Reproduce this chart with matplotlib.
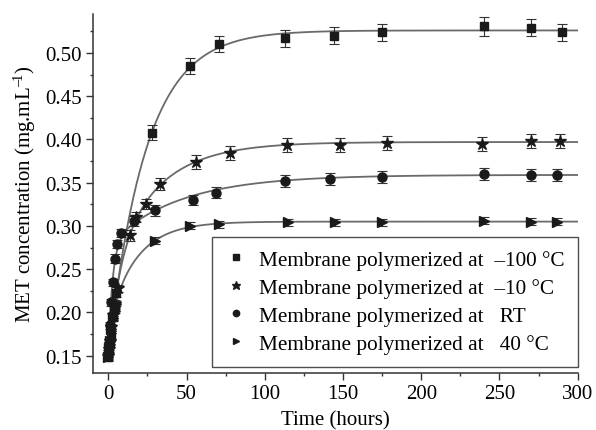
import numpy as np
import matplotlib
matplotlib.use("Agg")
import matplotlib.pyplot as plt
from matplotlib.ticker import MultipleLocator

plt.rcParams["font.family"] = ["Liberation Serif", "DejaVu Serif"]
plt.rcParams["mathtext.fontset"] = "custom"
plt.rcParams["mathtext.rm"] = "Liberation Serif"
plt.rcParams["mathtext.it"] = "Liberation Serif:italic"

t_sq = [0, 0.5, 1, 1.5, 2, 3, 4, 5, 28, 52, 71, 113, 144, 175, 240, 270, 290]
v_sq = [0.148, 0.157, 0.166, 0.172, 0.180, 0.195, 0.208, 0.222,
        0.408, 0.485, 0.510, 0.517, 0.520, 0.524, 0.531, 0.529, 0.524]
e_sq = [0.004, 0.004, 0.004, 0.004, 0.004, 0.004, 0.004, 0.004,
        0.009, 0.009, 0.009, 0.010, 0.010, 0.010, 0.011, 0.010, 0.010]

t_st = [0, 0.5, 1, 2, 3, 4, 6, 13.7, 17.9, 24, 33, 56, 78, 114, 148, 178, 239, 270, 289]
v_st = [0.150, 0.158, 0.167, 0.183, 0.197, 0.210, 0.228, 0.289, 0.310, 0.325,
        0.348, 0.374, 0.384, 0.394, 0.394, 0.396, 0.395, 0.398, 0.398]
e_st = [0.004, 0.004, 0.004, 0.004, 0.004, 0.004, 0.004, 0.006, 0.006, 0.006,
        0.007, 0.008, 0.008, 0.008, 0.008, 0.008, 0.008, 0.008, 0.008]

t_ci = [0, 0.5, 1, 2, 3, 4.5, 5.6, 8.3, 16.2, 30, 54, 69, 113, 142, 175, 240, 270, 287]
v_ci = [0.152, 0.165, 0.185, 0.212, 0.235, 0.262, 0.279, 0.292, 0.306, 0.318,
        0.330, 0.3385, 0.352, 0.354, 0.3565, 0.360, 0.3585, 0.3585]
e_ci = [0.004, 0.004, 0.004, 0.004, 0.004, 0.005, 0.005, 0.005, 0.006, 0.006,
        0.006, 0.006, 0.007, 0.007, 0.007, 0.007, 0.007, 0.007]

t_tr = [0, 0.5, 1, 2, 3, 4, 5, 30, 52, 71, 115, 145, 175, 240, 270, 287]
v_tr = [0.148, 0.159, 0.167, 0.181, 0.193, 0.202, 0.210,
        0.283, 0.300, 0.302, 0.304, 0.304, 0.304, 0.306, 0.305, 0.305]
e_tr = [0.003, 0.003, 0.003, 0.003, 0.003, 0.003, 0.003,
        0.004, 0.004, 0.004, 0.004, 0.004, 0.004, 0.004, 0.004, 0.004]

labels = ["Membrane polymerized at  \u2013100 \u00b0C",
          "Membrane polymerized at  \u201310 \u00b0C",
          "Membrane polymerized at   RT",
          "Membrane polymerized at   40 \u00b0C"]

# fitted curve parameters: plateau - a1*exp(-t/tau1) - a2*exp(-t/tau2)
plateau = [0.526, 0.397, 0.359, 0.305]
amp_fast = [0.376, 0.100, 0.129, 0.040]
tau_fast = [24.0, 7.2, 2.7, 3.0]
amp_slow = [0.0, 0.147, 0.080, 0.115]
tau_slow = [1.0, 30.0, 45.0, 18.0]

series = [(t_sq, v_sq, e_sq, "s", 6),
          (t_st, v_st, e_st, "*", 9),
          (t_ci, v_ci, e_ci, "o", 6.5),
          (t_tr, v_tr, e_tr, ">", 6.5)]

fig = plt.figure(figsize=(5.96, 4.31), dpi=100)
ax = fig.add_axes([0.1555, 0.1323, 0.8138, 0.8329])

tt = np.linspace(0, 300, 600)
for i in range(4):
    fit = plateau[i] - amp_fast[i] * np.exp(-tt / tau_fast[i]) \
        - amp_slow[i] * np.exp(-tt / tau_slow[i])
    ax.plot(tt, fit, color="#6a6a6a", lw=1.3, zorder=2)

handles = []
for (t, v, e, m, ms), lab in zip(series, labels):
    ax.errorbar(t, v, yerr=e, fmt="none", ecolor="#333333", elinewidth=0.8,
                capsize=3.5, capthick=0.8, zorder=3)
    h, = ax.plot(t, v, ls="none", marker=m, ms=ms, color="#1a1a1a",
                 mec="#1a1a1a", zorder=4, label=lab)
    handles.append(h)

ax.set_xlim(-10, 300)
ax.set_ylim(0.13, 0.545)
ax.xaxis.set_major_locator(MultipleLocator(50))
ax.xaxis.set_minor_locator(MultipleLocator(25))
ax.yaxis.set_major_locator(MultipleLocator(0.05))
ax.yaxis.set_minor_locator(MultipleLocator(0.025))
ax.yaxis.set_major_formatter(matplotlib.ticker.FormatStrFormatter("%.2f"))
ax.tick_params(which="major", direction="out", length=5, width=1,
               labelsize=15, pad=3, color="#333333")
ax.tick_params(which="minor", direction="out", length=2.5, width=1,
               color="#333333")
for s in ["top", "right"]:
    ax.spines[s].set_visible(False)
for s in ["left", "bottom"]:
    ax.spines[s].set_linewidth(1.1)
    ax.spines[s].set_color("#333333")

ax.set_xlabel("Time (hours)", fontsize=15, labelpad=5)
ax.set_ylabel("MET concentration (mg.mL$^{\u2013\\!1}$)", fontsize=15, labelpad=5)

leg = ax.legend(handles=handles, loc="lower right", bbox_to_anchor=(1.0, 0.017),
                fontsize=15.3, frameon=True, fancybox=False, borderaxespad=0,
                handlelength=1.0, handletextpad=0.6, labelspacing=0.38,
                markerscale=0.7, borderpad=0.62)
leg.get_frame().set_edgecolor("#222222")
leg.get_frame().set_linewidth(1.0)

fig.savefig("out.png", dpi=100)
